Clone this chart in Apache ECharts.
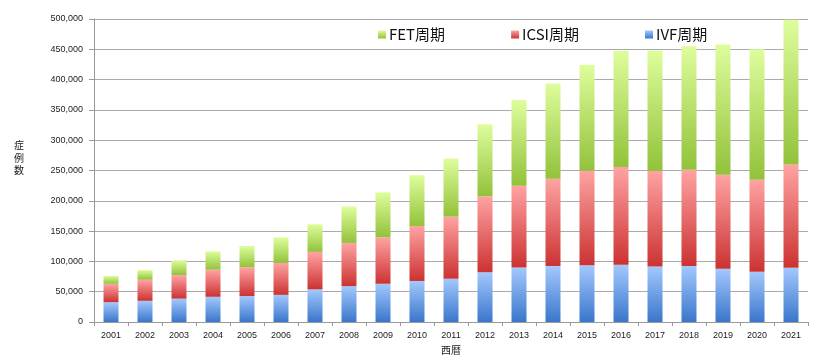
<!DOCTYPE html>
<html><head><meta charset="utf-8">
<script src="https://cdn.jsdelivr.net/npm/echarts@6/dist/echarts.min.js"></script>
<style>html,body{margin:0;padding:0;background:#fff}#c{width:824px;height:360px}</style>
</head><body><div id="c"></div>
<script>
var years = ['2001','2002','2003','2004','2005','2006','2007','2008','2009','2010','2011','2012','2013','2014','2015','2016','2017','2018','2019','2020','2021'];
var ivf  = [32676,34953,38575,41619,42822,44778,53873,59148,63083,67714,71422,82108,89950,92269,93614,94566,91516,92552,88074,82883,89447];
var icsi = [30369,34824,38871,44698,47579,52539,61813,71350,76790,90677,102473,125229,134871,144247,155797,161262,157709,158859,154824,151732,170350];
var fet  = [13034,15887,24459,30287,35069,42171,45478,60115,73927,83770,95764,119089,141335,157229,174740,191962,198985,203482,215203,215285,239011];
var seriesNames = ['IVF周期','ICSI周期','FET周期'];
var yTicks = [0,50000,100000,150000,200000,250000,300000,350000,400000,450000,500000];

function grad(top, bottom){
  return new echarts.graphic.LinearGradient(0,0,0,1,[{offset:0,color:top},{offset:1,color:bottom}]);
}
var colors = [grad('#a3c8fd','#3a76cb'), grad('#ffa3a3','#cc3232'), grad('#defd9c','#92c23a')];
var font = 'Liberation Sans, Arial, sans-serif';
var chart = echarts.init(document.getElementById('c'));
var dataArr = [ivf, icsi, fet];
chart.setOption({
  animation:false,
  grid:{left:94,right:16,top:19,bottom:34,containLabel:false},
  legend:{
    data:[seriesNames[2],seriesNames[1],seriesNames[0]],
    top:22,left:373,itemGap:66,itemWidth:8,itemHeight:8,icon:'rect',
    textStyle:{fontSize:15,color:'#111',fontFamily:'Noto Sans CJK JP, sans-serif',padding:[0,0,0,-2]}
  },
  graphic:[{type:'text',left:14,top:139,
    style:{text:'症\n例\n数',fontSize:10,lineHeight:12.5,fill:'#222',fontFamily:'Noto Sans CJK JP, sans-serif'}}],
  xAxis:{
    type:'category',data:years,
    axisLine:{lineStyle:{color:'#9a9a9a'}},
    axisTick:{show:true,length:4,alignWithLabel:false,lineStyle:{color:'#9a9a9a'}},
    axisLabel:{fontSize:9,color:'#222',margin:9,fontFamily:font},
    name:'西暦',nameLocation:'middle',nameGap:23,
    nameTextStyle:{fontSize:10,color:'#222',fontFamily:'Noto Sans CJK JP, sans-serif'}
  },
  yAxis:{
    type:'value',min:yTicks[0],max:yTicks[yTicks.length-1],interval:50000,
    axisLine:{show:true,lineStyle:{color:'#9a9a9a'}},
    axisTick:{show:true,length:5,lineStyle:{color:'#9a9a9a'}},
    splitLine:{lineStyle:{color:'#aaaaaa',width:1}},
    axisLabel:{fontSize:9,color:'#222',margin:11,fontFamily:font,
      formatter:function(v){return v.toLocaleString('en-US');}}
  },
  series:[0,1,2].map(function(i){
    return {name:seriesNames[i],type:'bar',stack:'a',data:dataArr[i],barWidth:15,
      itemStyle:{color:colors[i]}};
  })
});
</script></body></html>
